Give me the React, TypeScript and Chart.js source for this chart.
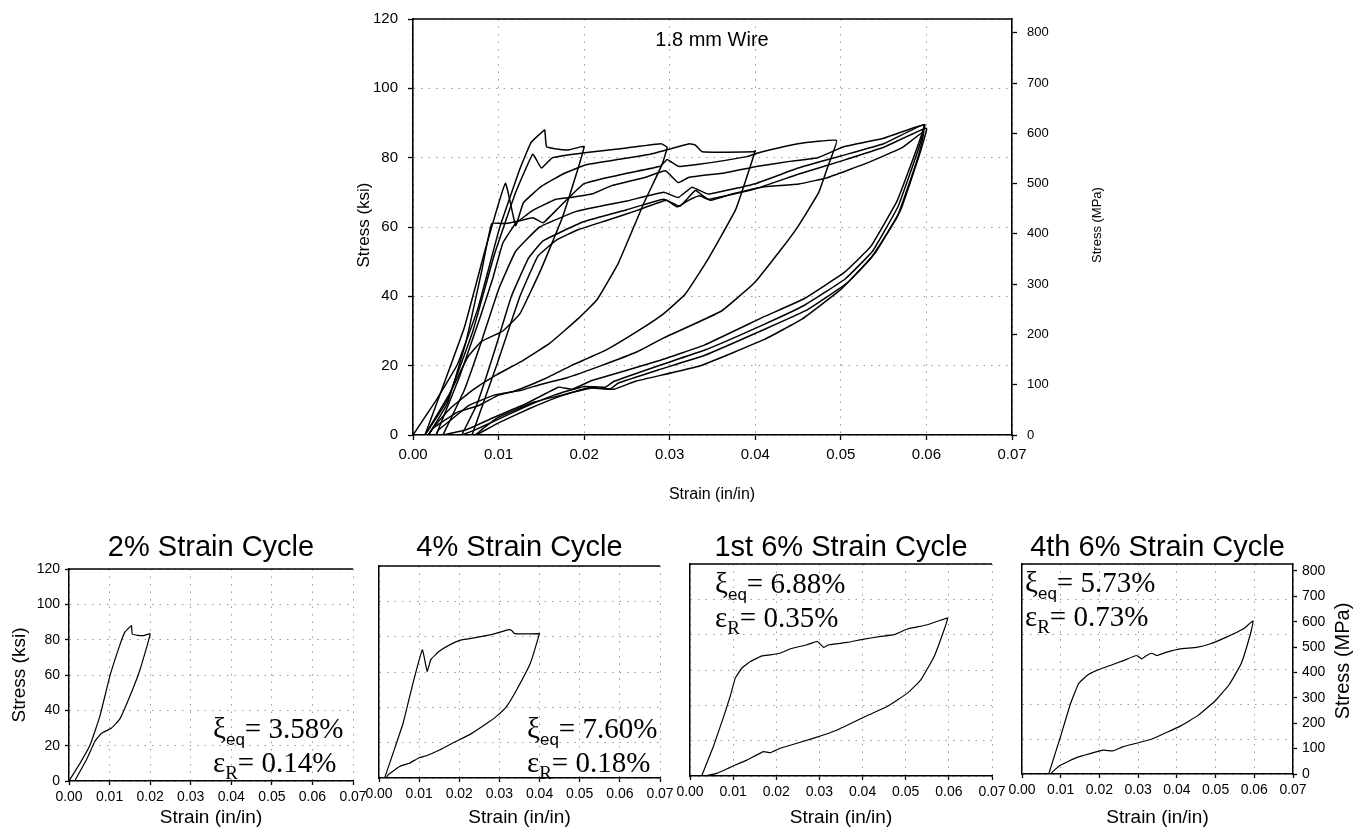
import React, { useEffect, useRef } from "react";
import { Chart, registerables } from "chart.js";

Chart.register(...registerables);

// ---------- data ----------
const STRAIN_TICKS = [0, 0.01, 0.02, 0.03, 0.04, 0.05, 0.06, 0.07];
const KSI_TICKS = [0, 20, 40, 60, 80, 100, 120];
const MPA_TICKS = [0, 100, 200, 300, 400, 500, 600, 700, 800];
const KSI_TO_MPA = 6.895;

const PANEL_TITLES = ["2% Strain Cycle", "4% Strain Cycle", "1st 6% Strain Cycle", "4th 6% Strain Cycle"];
const PANEL_XI = ["3.58%", "7.60%", "6.88%", "5.73%"];
const PANEL_ER = ["0.14%", "0.18%", "0.35%", "0.73%"];

// (strain in/in, stress ksi): loading branch followed by unloading branch
const CYCLE_2PCT: [number, number][] = [
  [0, 0], [0.0027, 10], [0.0052, 20.4], [0.0076, 36.6], [0.0101, 59.6], [0.0125, 76.8], [0.0138, 84.4],
  [0.015, 87.2], [0.0154, 88], [0.0156, 83.2], [0.017, 82.4], [0.0183, 82.3], [0.02, 83.2],
  [0.0175, 63], [0.015, 48], [0.0125, 35], [0.0105, 30], [0.008, 27], [0.0064, 22.5], [0.0043, 12], [0.0014, 0],
];
const CYCLE_3PCT: [number, number][] = [
  [0.0014, 0], [0.004, 10], [0.007, 30], [0.0095, 52], [0.012, 70], [0.014, 81], [0.015, 77], [0.0163, 80],
  [0.0203, 81.5], [0.025, 82.8], [0.029, 84], [0.0297, 83],
  [0.0291, 78], [0.027, 67], [0.024, 49.6], [0.0215, 39], [0.0195, 34], [0.016, 26.5], [0.0125, 21],
  [0.0095, 17], [0.007, 13], [0.0045, 8], [0.0025, 2.5], [0.0018, 0],
];
const CYCLE_4PCT: [number, number][] = [
  [0.0014, 0], [0.0035, 14], [0.006, 31], [0.0085, 54], [0.0108, 72.6], [0.012, 60.4], [0.0129, 67],
  [0.015, 71.7], [0.0177, 75.5], [0.0203, 78], [0.0243, 79.6], [0.0277, 81], [0.0293, 82], [0.0323, 84],
  [0.033, 83.6], [0.0338, 81.7], [0.0398, 81.7], [0.04, 82],
  [0.0377, 65], [0.0343, 50], [0.0318, 40.6], [0.0293, 35], [0.0268, 30.8], [0.0227, 24.7], [0.0185, 20],
  [0.0152, 16], [0.0118, 12.6], [0.01, 11.5], [0.0077, 8.5], [0.0052, 6.6], [0.0023, 1.9], [0.0018, 0],
];
const CYCLE_5PCT: [number, number][] = [
  [0.0018, 0], [0.004, 9], [0.0062, 27], [0.008, 47], [0.0092, 61], [0.0108, 61], [0.0125, 61.8],
  [0.014, 62.7], [0.0152, 61.2], [0.017, 65.5], [0.02, 72.5], [0.025, 75.5], [0.0289, 77.5], [0.0297, 79.5],
  [0.031, 77.5], [0.0332, 78], [0.039, 80.3], [0.0405, 81.5], [0.045, 84], [0.0495, 85],
  [0.0485, 77.6], [0.0474, 69.9], [0.045, 60.2], [0.043, 53.5], [0.0399, 43.9], [0.036, 35.7], [0.0293, 28],
  [0.0262, 24], [0.022, 20], [0.018, 16.5], [0.0148, 14.5], [0.0125, 12.8], [0.0095, 11.5], [0.0065, 8.5],
  [0.0045, 4.5], [0.003, 1.5], [0.0027, 0],
];
const CYCLE_6PCT_1: [number, number][] = [
  [0.0027, 0], [0.0054, 16.6], [0.0078, 33.6], [0.0093, 45], [0.0105, 55.4], [0.012, 61], [0.014, 64.8],
  [0.0167, 68], [0.0186, 68.6], [0.021, 69.6], [0.0233, 72], [0.0271, 74.3], [0.0295, 76.2], [0.031, 72.8],
  [0.0322, 74.3], [0.0364, 75.6], [0.0403, 77.5], [0.0442, 79], [0.0473, 80], [0.0504, 83.2], [0.055, 85.6],
  [0.0597, 89.4],
  [0.0589, 82.8], [0.0566, 67.7], [0.0535, 54.4], [0.0504, 46.9], [0.0457, 39.3], [0.0411, 34.2],
  [0.0341, 26], [0.0287, 21.4], [0.0209, 15.7], [0.0186, 13.2], [0.017, 13.8], [0.0132, 9], [0.0093, 4.9],
  [0.0062, 1.5], [0.0035, 0],
];
const CYCLE_6PCT_2: [number, number][] = [
  [0.0035, 0], [0.006, 13], [0.008, 27], [0.01, 42], [0.012, 53], [0.0148, 60], [0.0191, 64.5], [0.025, 67.5],
  [0.0293, 70], [0.031, 68.5], [0.0326, 71.5], [0.0345, 69.5], [0.04, 72.5], [0.045, 77], [0.05, 80.5],
  [0.055, 84], [0.0598, 89.6],
  [0.059, 82], [0.0567, 66], [0.0537, 53], [0.0505, 45], [0.0458, 37.5], [0.0411, 32], [0.0341, 24.5],
  [0.0287, 20], [0.0235, 15.5], [0.0225, 13.8], [0.02, 14], [0.0165, 11.5], [0.013, 8], [0.0095, 4],
  [0.007, 1.2], [0.0057, 0],
];
const CYCLE_6PCT_3: [number, number][] = [
  [0.0057, 0], [0.0075, 9], [0.0095, 24], [0.0115, 40], [0.0135, 51], [0.0152, 56], [0.0199, 61.5],
  [0.025, 65], [0.0293, 68], [0.0312, 66], [0.033, 70.5], [0.0345, 68], [0.04, 71], [0.045, 75.2],
  [0.05, 79], [0.055, 83], [0.06, 88.5],
  [0.0592, 81], [0.057, 65], [0.054, 52.5], [0.0508, 44], [0.046, 36], [0.0411, 30.5], [0.0341, 23],
  [0.0287, 18.8], [0.024, 15], [0.023, 13.2], [0.0205, 13.6], [0.017, 11], [0.0135, 7.5], [0.01, 3.5],
  [0.008, 0.8], [0.0071, 0],
];
const CYCLE_6PCT_4: [number, number][] = [
  [0.0069, 0], [0.0099, 21], [0.0125, 40], [0.0146, 51.6], [0.0168, 56.3], [0.0193, 59.2], [0.0228, 62],
  [0.0262, 64.8], [0.0296, 67.7], [0.0309, 65.8], [0.0322, 67.7], [0.0335, 69], [0.0348, 67.7],
  [0.0374, 69.6], [0.0408, 71.5], [0.0451, 72.4], [0.0485, 74.3], [0.0528, 78.2], [0.0571, 82.8],
  [0.0597, 87.5],
  [0.059, 80], [0.0566, 63], [0.0535, 51], [0.05, 42], [0.0455, 33.5], [0.041, 27.5], [0.0336, 20],
  [0.026, 15.5], [0.0235, 13.2], [0.021, 13.6], [0.0142, 9.5], [0.0099, 5], [0.008, 1.5], [0.0073, 0],
];

const ALL_CYCLES = [
  CYCLE_2PCT, CYCLE_3PCT, CYCLE_4PCT, CYCLE_5PCT,
  CYCLE_6PCT_1, CYCLE_6PCT_2, CYCLE_6PCT_3, CYCLE_6PCT_4,
];

// ---------- layout ----------
const W = 1362;
const H = 839;
const SANS = '"Liberation Sans", Arial, sans-serif';
const SERIF = '"Liberation Serif", "Times New Roman", serif';

type TextItem = { text: string; x: number; y: number; size: number; rotate?: boolean };
type RichItem = { greek: string; sub: string; subSans: boolean; value: string; x: number; y: number };

interface Spec {
  cycles: [number, number][][];
  L: number; R: number; T: number; B: number;
  yW: number; y2W: number; xH: number;
  showYLabels: boolean; showY2: boolean; rightFrame: boolean;
  tickFont: number; y2TickFont: number; tickLen: number;
  yPad: number; y2Pad: number; xPad: number;
  lineWidth: number; axisWidth: number;
  texts: TextItem[]; rich: RichItem[];
}

function richPair(i: number, x: number, y: number): RichItem[] {
  return [
    { greek: "\u03BE", sub: "eq", subSans: true, value: "= " + PANEL_XI[i], x, y },
    { greek: "\u03B5", sub: "R", subSans: false, value: "= " + PANEL_ER[i], x, y: y + 34 },
  ];
}

const MAIN: Spec = {
  cycles: ALL_CYCLES,
  L: 413, R: 1012, T: 15, B: 435,
  yW: 60, y2W: 60, xH: 40,
  showYLabels: true, showY2: true, rightFrame: false,
  tickFont: 15, y2TickFont: 13, tickLen: 5, yPad: 10, y2Pad: 10, xPad: 6,
  lineWidth: 1.5, axisWidth: 1.6,
  texts: [
    { text: "1.8 mm Wire", x: 712, y: 40, size: 20 },
    { text: "Stress (ksi)", x: 364, y: 225, size: 17, rotate: true },
    { text: "Stress (MPa)", x: 1097, y: 225, size: 13, rotate: true },
    { text: "Strain (in/in)", x: 712, y: 495, size: 16 },
  ],
  rich: [],
};

function panel(i: number, cycle: [number, number][], L: number, R: number, T: number, B: number, extra: Partial<Spec>, texts: TextItem[], rx: number, ry: number): Spec {
  return {
    cycles: [cycle], L, R, T, B,
    yW: 10, y2W: 0, xH: 30,
    showYLabels: false, showY2: false, rightFrame: false,
    tickFont: 14, y2TickFont: 14, tickLen: 4, yPad: 5, y2Pad: 5, xPad: 4,
    lineWidth: 1.2, axisWidth: 1.5,
    texts: [
      { text: PANEL_TITLES[i], x: (L + R) / 2, y: 548, size: 29 },
      { text: "Strain (in/in)", x: (L + R) / 2, y: 818, size: 19 },
      ...texts,
    ],
    rich: richPair(i, rx, ry),
    ...extra,
  };
}

const SPECS: Spec[] = [
  MAIN,
  panel(0, CYCLE_2PCT, 69, 353, 569, 781, { yW: 40, showYLabels: true },
    [{ text: "Stress (ksi)", x: 20, y: 675, size: 19, rotate: true }], 213, 738),
  panel(1, CYCLE_4PCT, 379, 660, 566, 778, {}, [], 527, 738),
  panel(2, CYCLE_6PCT_1, 690, 992, 564, 776, {}, [], 715, 593),
  panel(3, CYCLE_6PCT_4, 1022, 1293, 564, 774, { y2W: 40, showY2: true },
    [{ text: "Stress (MPa)", x: 1343, y: 661, size: 20, rotate: true }], 1025, 592),
];

// ---------- plugins ----------
function makeDecor(spec: Spec) {
  return {
    id: "decor",
    afterDraw(chart: any) {
      const { ctx, chartArea: a } = chart;
      ctx.save();
      ctx.strokeStyle = "#000";
      ctx.lineWidth = spec.axisWidth;
      ctx.beginPath();
      ctx.moveTo(a.left, a.top);
      ctx.lineTo(a.right, a.top);
      if (spec.rightFrame) {
        ctx.moveTo(a.right, a.top);
        ctx.lineTo(a.right, a.bottom);
      }
      ctx.stroke();
      ctx.fillStyle = "#000";
      for (const t of spec.texts) {
        ctx.save();
        ctx.font = `${t.size}px ${SANS}`;
        ctx.textAlign = "center";
        ctx.textBaseline = "middle";
        ctx.translate(t.x, t.y);
        if (t.rotate) ctx.rotate(-Math.PI / 2);
        ctx.fillText(t.text, 0, 0);
        ctx.restore();
      }
      for (const r of spec.rich) {
        let x = r.x;
        ctx.textAlign = "left";
        ctx.textBaseline = "alphabetic";
        ctx.font = `29px ${SERIF}`;
        ctx.fillText(r.greek, x, r.y);
        x += ctx.measureText(r.greek).width;
        ctx.font = r.subSans ? `17px ${SANS}` : `19px ${SERIF}`;
        ctx.fillText(r.sub, x, r.y + 7);
        x += ctx.measureText(r.sub).width;
        ctx.font = `29px ${SERIF}`;
        ctx.fillText(r.value, x, r.y);
      }
      ctx.restore();
    },
  };
}

function buildConfig(spec: Spec): any {
  const datasets = spec.cycles.map((c) => ({
    data: c.map(([x, y]) => ({ x, y })),
    showLine: true,
    borderColor: "#000",
    borderWidth: spec.lineWidth,
    pointRadius: 0,
    tension: 0.1,
    fill: false,
    xAxisID: "x",
    yAxisID: "y",
  }));
  const gridBase = {
    color: "#9a9a9a",
    lineWidth: 1,
    tickColor: "#000",
    tickWidth: 1.3,
    tickLength: spec.tickLen,
  };
  const border = { color: "#000", width: spec.axisWidth, dash: [1.5, 6] };
  const scales: any = {
    x: {
      type: "linear",
      position: "bottom",
      min: 0,
      max: 0.07,
      afterBuildTicks: (s: any) => { s.ticks = STRAIN_TICKS.map((v) => ({ value: v })); },
      afterFit: (s: any) => { s.height = spec.xH; },
      ticks: {
        callback: (v: any) => Number(v).toFixed(2),
        font: { size: spec.tickFont, family: SANS },
        color: "#000",
        padding: spec.xPad,
        maxRotation: 0,
        autoSkip: false,
      },
      grid: { ...gridBase },
      border,
    },
    y: {
      type: "linear",
      position: "left",
      min: 0,
      max: 120,
      afterBuildTicks: (s: any) => { s.ticks = KSI_TICKS.map((v) => ({ value: v })); },
      afterFit: (s: any) => { s.width = spec.yW; },
      ticks: {
        display: spec.showYLabels,
        callback: (v: any) => String(v),
        font: { size: spec.tickFont, family: SANS },
        color: "#000",
        padding: spec.yPad,
        autoSkip: false,
      },
      grid: { ...gridBase, drawTicks: spec.showYLabels },
      border,
    },
  };
  if (spec.showY2) {
    scales.y2 = {
      type: "linear",
      position: "right",
      display: true,
      min: 0,
      max: 120 * KSI_TO_MPA,
      afterBuildTicks: (s: any) => { s.ticks = MPA_TICKS.map((v) => ({ value: v })); },
      afterFit: (s: any) => { s.width = spec.y2W; },
      ticks: {
        callback: (v: any) => String(v),
        font: { size: spec.y2TickFont, family: SANS },
        color: "#000",
        padding: spec.y2Pad,
        autoSkip: false,
      },
      grid: { ...gridBase, drawOnChartArea: false },
      border: { color: "#000", width: spec.axisWidth },
    };
  }
  return {
    type: "scatter",
    data: { datasets },
    options: {
      animation: false,
      responsive: false,
      devicePixelRatio: 1,
      events: [],
      layout: {
        padding: {
          left: spec.L - spec.yW,
          right: W - spec.R - spec.y2W,
          top: spec.T,
          bottom: H - spec.B - spec.xH,
        },
      },
      plugins: { legend: { display: false }, tooltip: { enabled: false }, title: { display: false } },
      scales,
    },
    plugins: [makeDecor(spec)],
  };
}

function PageChart({ spec }: { spec: Spec }) {
  const ref = useRef<HTMLCanvasElement>(null);
  useEffect(() => {
    if (!ref.current) return;
    const chart = new Chart(ref.current, buildConfig(spec));
    return () => chart.destroy();
  }, [spec]);
  return (
    <canvas
      ref={ref}
      width={W}
      height={H}
      style={{ position: "absolute", left: 0, top: 0, width: W, height: H }}
    />
  );
}

export default function App() {
  return (
    <div style={{ position: "fixed", left: 0, top: 0, width: W, height: H, background: "#fff", overflow: "hidden" }}>
      {SPECS.map((s, i) => (
        <PageChart key={i} spec={s} />
      ))}
    </div>
  );
}
